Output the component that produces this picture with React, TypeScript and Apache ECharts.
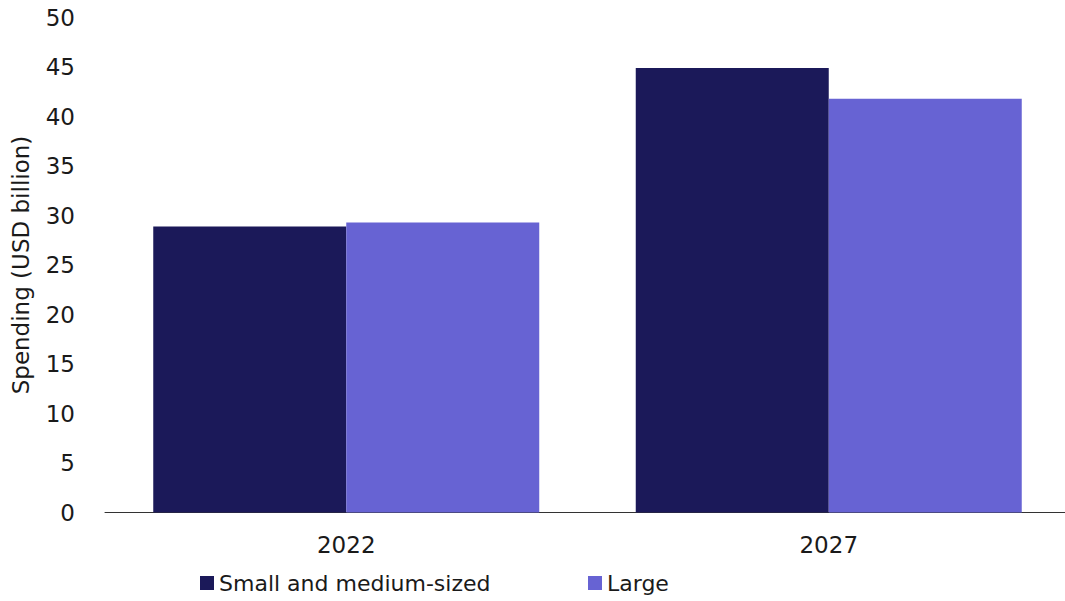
import React, { useEffect, useRef } from "react";
import * as echarts from "echarts";

const categories = ["2022", "2027"];
const smallMedium = [28.9, 44.9];
const large = [29.3, 41.8];
const seriesNames = ["Small and medium-sized", "Large"];
const yAxisTitle = "Spending (USD billion)";

const FONT = "DejaVu Sans";
const TEXT = "#1a1a1a";

export default function App() {
  const ref = useRef<HTMLDivElement>(null);
  useEffect(() => {
    if (!ref.current) return;
    const chart = echarts.init(ref.current, undefined, { renderer: "svg" });
    chart.setOption({
      animation: false,
      backgroundColor: "#ffffff",
      textStyle: { fontFamily: FONT, color: TEXT },
      grid: { left: 105, right: 0, top: 17.5, bottom: 88.5, containLabel: false },
      legend: [
        {
          data: [seriesNames[0]],
          left: 200,
          top: 572,
          padding: 0,
          icon: "rect",
          itemWidth: 14,
          itemHeight: 14,
          textStyle: { fontFamily: FONT, fontSize: 22, color: TEXT },
        },
        {
          data: [seriesNames[1]],
          left: 588,
          top: 572,
          padding: 0,
          icon: "rect",
          itemWidth: 14,
          itemHeight: 14,
          textStyle: { fontFamily: FONT, fontSize: 22, color: TEXT },
        },
      ],
      xAxis: {
        type: "category",
        data: categories,
        axisLine: { show: true, lineStyle: { color: "#333333", width: 1 } },
        axisTick: { show: false },
        axisLabel: { fontFamily: FONT, fontSize: 23, color: TEXT, margin: 21 },
      },
      yAxis: {
        type: "value",
        min: 0,
        max: 50,
        interval: 5,
        name: yAxisTitle,
        nameLocation: "middle",
        nameGap: 73,
        nameTextStyle: { fontFamily: FONT, fontSize: 23, color: TEXT },
        axisLine: { show: false },
        axisTick: { show: false },
        splitLine: { show: false },
        axisLabel: { fontFamily: FONT, fontSize: 23, color: TEXT, margin: 30 },
      },
      series: [
        {
          name: seriesNames[0],
          type: "bar",
          data: smallMedium,
          barGap: "0%",
          barCategoryGap: "20%",
          itemStyle: { color: "#1b1959" },
        },
        {
          name: seriesNames[1],
          type: "bar",
          data: large,
          barGap: "0%",
          barCategoryGap: "20%",
          itemStyle: { color: "#6763d3" },
        },
      ],
    });
    return () => chart.dispose();
  }, []);
  return (
    <div
      style={{
        position: "absolute",
        left: 0,
        top: 0,
        width: 1065,
        height: 601,
        overflow: "hidden",
      }}
    >
      <div ref={ref} style={{ width: 1070, height: 601 }} />
    </div>
  );
}
